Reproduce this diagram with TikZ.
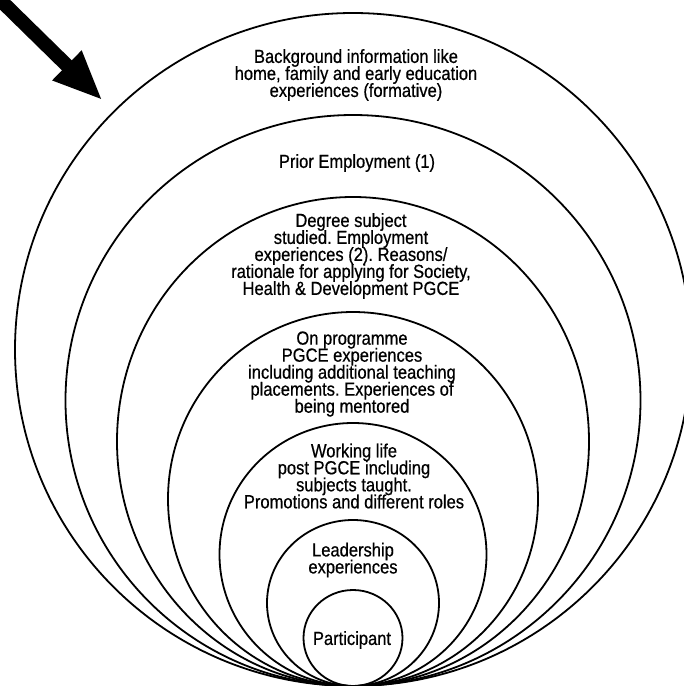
\documentclass[tikz,border=0pt]{standalone}
\usepackage{fontspec}
\setmainfont{Liberation Sans}[FakeStretch=0.87, FakeBold=0.6]
\usepackage{tikz}
\usetikzlibrary{positioning, shapes.geometric, arrows.meta}

\newcommand{\ringfont}{\fontsize{19}{17}\selectfont\lineskiplimit=-20pt\relax\frenchspacing}

\tikzset{
  ring/.style={draw, ellipse, line width=1.8pt, inner sep=0pt, outer sep=0pt, anchor=south},
  ringtext/.style={align=center, inner sep=0pt, font=\ringfont},
  bigarrow/.style={line width=14pt, -{Triangle[length=50pt, width=38pt]}, shorten >=16pt}
}

\begin{document}
\begin{tikzpicture}[x=1pt, y=-1pt]
    \useasboundingbox (0,0) rectangle (684,686);

    % Common touching point of all rings
    \coordinate (base) at (353,686);

    % Draw the rings, outermost first
    \foreach \r/\w/\h in {bg/676/673, prior/575/571, degree/472/489, prog/370/374, work/267/263, lead/172/166, part/99/96} {
      \node[ring, minimum width=\w pt, minimum height=\h pt] (\r) at (base) {};
    }

    % Ring texts
    \node[ringtext] (bgtext) at (356,75) {Background information like\\home, family and early education\\experiences (formative)};
    \node[ringtext] (priortext) at (357,163) {Prior Employment (1)};
    \node[ringtext] (degreetext) at (351,256) {Degree subject\\studied. Employment\\experiences (2). Reasons/\\rationale for applying for Society,\\Health \& Development PGCE};
    \node[ringtext] (progtext) at (352,374) {On programme\\PGCE experiences\\including additional teaching\\placements. Experiences of\\being mentored};
    \node[ringtext] (worktext) at (354,476) {Working life\\post PGCE including\\subjects taught.\\Promotions and different roles};
    \node[ringtext] (leadtext) at (353,560) {Leadership\\experiences};
    \node[ringtext] (parttext) at (352,640) {Participant};

    % Arrow pointing at the outer ring
    \coordinate (tail) at (-12,-12);
    \draw[bigarrow] (tail) -- (bg.north west);
\end{tikzpicture}
\end{document}
